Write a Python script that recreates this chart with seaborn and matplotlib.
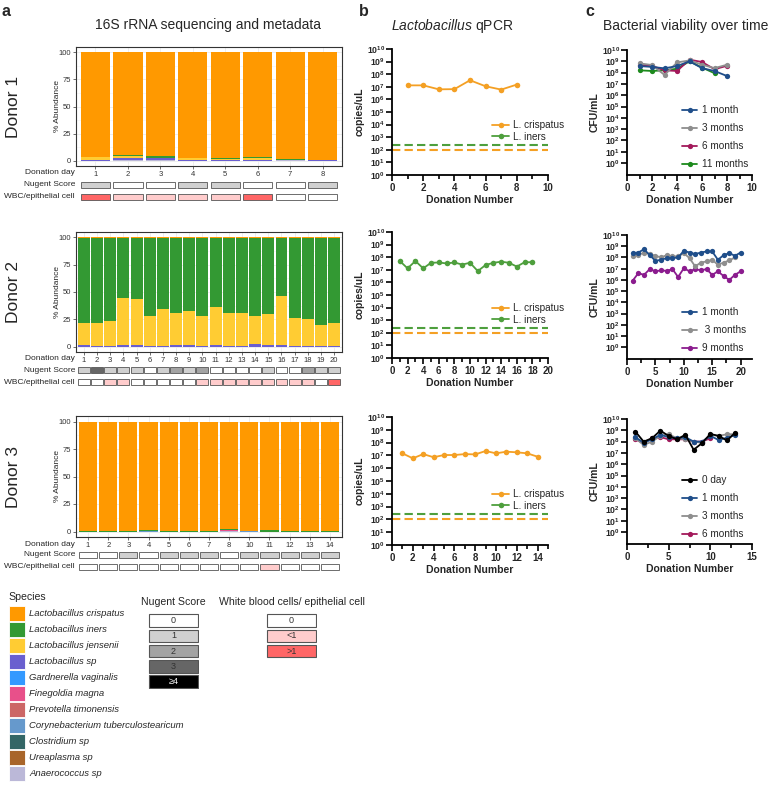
import matplotlib
matplotlib.use('agg')
import matplotlib.pyplot as plt
from matplotlib.lines import Line2D
from matplotlib.patches import Patch
from matplotlib.ticker import NullLocator, MultipleLocator
import numpy as np
import pandas as pd
import seaborn as sns

sns.set_style('ticks')
plt.rcParams['font.family'] = ['Liberation Sans', 'DejaVu Sans']
plt.rcParams['mathtext.fontset'] = 'custom'
plt.rcParams['mathtext.rm'] = 'Liberation Sans'
plt.rcParams['mathtext.it'] = 'Liberation Sans:italic'
plt.rcParams['mathtext.bf'] = 'Liberation Sans:bold'

W, H = 769, 785

# ---------------- data ----------------
species = ['Lactobacillus crispatus', 'Lactobacillus iners', 'Lactobacillus jensenii',
           'Lactobacillus sp', 'Gardnerella vaginalis', 'Finegoldia magna',
           'Prevotella timonensis', 'Corynebacterium tuberculostearicum',
           'Clostridium sp', 'Ureaplasma sp', 'Anaerococcus sp']
species_colors = ['#FF9900', '#339933', '#FFCC33', '#6A5FCF', '#3399FF', '#E8508A',
                  '#CC6666', '#6699CC', '#336666', '#A8652A', '#BBB8D8']

# donor 1 (% abundance)
d1_days = ['1', '2', '3', '4', '5', '6', '7', '8']
d1_crispatus = [96.6, 95.2, 96.0, 97.8, 98.0, 96.5, 98.3, 99.0]
d1_iners = [0.4, 0.2, 1.2, 0.2, 0.2, 1.5, 0.9, 0.3]
d1_jensenii = [2.2, 2.5, 0.8, 1.5, 1.0, 1.2, 0.3, 0.4]
d1_lsp = [0.8, 1.5, 1.2, 0.5, 0.8, 0.8, 0.3, 0.3]
d1_anaero = [0.0, 0.6, 0.8, 0.0, 0.0, 0.0, 0.2, 0.0]
d1_nugent = [1, 0, 0, 1, 1, 0, 0, 1]
d1_wbc = [2, 1, 1, 1, 1, 2, 0, 0]

# donor 2
d2_days = [str(i) for i in range(1, 21)]
d2_crispatus = [0.5, 0.5, 0.5, 0.5, 0.5, 0.5, 0.5, 0.5, 0.5, 0.5,
                0.5, 0.5, 0.5, 0.5, 0.5, 0.5, 0.5, 0.5, 0.5, 0.5]
d2_iners = [78.3, 78.3, 76.2, 54.7, 56.0, 71.1, 65.3, 68.9, 67.1, 71.1,
            63.2, 68.6, 68.6, 71.6, 69.5, 53.5, 73.5, 74.5, 79.5, 78.0]
d2_jensenii = [20.2, 20.4, 22.5, 43.8, 42.3, 27.6, 33.4, 29.6, 31.4, 27.5,
               34.8, 30.3, 30.3, 25.6, 28.8, 44.8, 25.2, 24.2, 19.4, 20.9]
d2_lsp = [1.0, 0.8, 0.8, 1.0, 1.2, 0.8, 0.8, 1.0, 1.0, 0.9,
          1.5, 0.6, 0.6, 2.3, 1.2, 1.2, 0.8, 0.8, 0.6, 0.6]
d2_nugent = [1, 3, 1, 1, 1, 0, 1, 2, 1, 2, 0, 0, 0, 0, 1, 0, 0, 2, 1, 1]
d2_wbc = [0, 0, 1, 1, 0, 0, 0, 0, 0, 1, 1, 1, 1, 1, 1, 1, 1, 1, 0, 2]

# donor 3
d3_days = ['1', '2', '3', '4', '5', '6', '7', '8', '10', '11', '12', '13', '14']
d3_crispatus = [99.7, 99.8, 99.8, 98.6, 99.7, 99.7, 99.4, 97.9, 99.1, 99.0, 99.6, 99.7, 99.5]
d3_iners = [0.3, 0.2, 0.2, 0.8, 0.3, 0.3, 0.6, 0.5, 0.6, 1.0, 0.4, 0.3, 0.5]
d3_coryne = [0, 0, 0, 0.6, 0, 0, 0, 0, 0.3, 0, 0, 0, 0]
d3_finegoldia = [0, 0, 0, 0, 0, 0, 0, 1.0, 0, 0, 0, 0, 0]
d3_anaero = [0, 0, 0, 0, 0, 0, 0, 0.6, 0, 0, 0, 0, 0]
d3_nugent = [0, 0, 1, 0, 1, 1, 1, 0, 1, 1, 1, 1, 1]
d3_wbc = [0, 0, 0, 0, 0, 0, 0, 0, 0, 1, 0, 0, 0]

nugent_labels = ['0', '1', '2', '3', '\u22654']
nugent_colors = ['#FFFFFF', '#D0D0D0', '#A3A3A3', '#666666', '#000000']
wbc_labels = ['0', '<1', '>1']
wbc_colors = ['#FFFFFF', '#FFCCCC', '#FF6666']

# qPCR (copies/uL)
lod_crispatus = 100
lod_iners = 250
q1_x = [1, 2, 3, 4, 5, 6, 7, 8]
q1_crispatus = [1.3e7, 1.3e7, 6.3e6, 6.5e6, 3.3e7, 1.1e7, 6.0e6, 1.5e7]
q2_x = list(range(1, 19))
q2_iners = [5.0e7, 1.3e7, 5.0e7, 1.3e7, 3.6e7, 3.8e7, 3.2e7, 3.8e7, 2.6e7,
            3.6e7, 7.9e6, 2.4e7, 3.6e7, 4.4e7, 3.6e7, 1.8e7, 4.0e7, 4.0e7]
q3_x = list(range(1, 15))
q3_crispatus = [1.45e7, 5.9e6, 1.26e7, 7.2e6, 1.07e7, 1.07e7, 1.26e7,
                1.2e7, 2.2e7, 1.45e7, 1.95e7, 1.74e7, 1.45e7, 7.9e6]

# viability (CFU/mL)
v1_x = [1, 2, 3, 4, 5, 6, 7, 8]
v1_1m = [3.8e8, 3.2e8, 2.4e8, 3.8e8, 1.0e9, 2.5e8, 1.4e8, 5.0e7]
v1_3m = [6.6e8, 4.7e8, 6.2e7, 7.9e8, 1.2e9, 5.0e8, 2.5e8, 5.0e8]
v1_6m = [4.7e8, 4.0e8, 1.6e8, 1.4e8, 1.4e9, 8.7e8, 2.0e8, 4.0e8]
v1_11m = [1.6e8, 1.4e8, 1.6e8, 2.2e8, 1.0e9, 2.8e8, 8.9e7]
v2_x = list(range(1, 21))
v2_1m = [2.4e8, 2.75e8, 5.4e8, 1.6e8, 5.0e7, 6.2e7, 8.7e7, 8.7e7, 1.0e8, 3.9e8,
         2.75e8, 2.0e8, 2.75e8, 3.4e8, 3.4e8, 6.2e7, 1.6e8, 2.4e8, 1.4e8, 2.75e8]
v2_3m = [1.4e8, 1.6e8, 2.75e8, 2.0e8, 1.4e8, 1.0e8, 1.6e8, 1.26e8, 1.26e8, 2.4e8,
         8.7e7, 1.6e7, 3.5e7, 4.4e7, 6.2e7, 2.2e7, 3.5e7, 5.4e7, 1.0e8]
v2_9m = [8.5e5, 4.0e6, 2.8e6, 9.1e6, 5.8e6, 7.1e6, 6.3e6, 9.1e6, 1.8e6, 1.1e7,
         5.8e6, 9.1e6, 7.1e6, 9.1e6, 2.8e6, 5.8e6, 2.2e6, 1.0e6, 2.8e6, 5.8e6]
v3_x = list(range(1, 14))
v3_0d = [7.8e8, 1.0e8, 2.0e8, 9.3e8, 3.2e8, 1.6e8, 4.0e8, 1.9e7, 7.4e7, 4.8e8, 3.2e8, 1.26e8, 6.3e8]
v3_1m = [2.5e8, 7.9e7, 1.6e8, 4.0e8, 2.5e8, 2.0e8, 2.5e8, 1.0e8, 1.0e8, 3.2e8, 1.4e8, 2.2e8, 4.0e8]
v3_3m = [2.0e8, 5.0e7, 1.0e8, 3.2e8, 4.5e8, 2.0e8, 1.6e8, 1.0e8, 7.9e7, 4.0e8, 3.2e8, 4.5e8, 4.5e8]
v3_6m = [1.6e8, 7.4e7, 2.0e8, 2.5e8, 1.6e8, 1.6e8, 1.6e8, 1.0e8, 1.0e8, 2.0e8]

ORANGE = '#F4A024'
GREEN = '#4E9F3D'
BLUE = '#1F4E8A'
GREY = '#8E8E8E'
MAROON = '#A3195B'
DGREEN = '#1D8A1D'
PURPLE = '#8B1C8E'

# ---------------- figure ----------------
fig = plt.figure(figsize=(W / 100, H / 100), dpi=100)


def add_ax(x0, y0, x1, y1):
    return fig.add_axes([x0 / W, 1 - y1 / H, (x1 - x0) / W, (y1 - y0) / H])


sp_color = dict(zip(species, species_colors))
stack_order = species[::-1]  # bottom -> top


def bar_panel(y0, y1, days, comp, nugent, wbc, ny, wy, donor):
    ax = add_ax(76, y0, 342, y1)
    n = len(days)
    cum = np.zeros(n)
    cums = []
    for sp in stack_order:
        if sp in comp:
            cum = cum + np.array(comp[sp], dtype=float)
            cums.append((sp, cum.copy()))
    # draw cumulative totals from the top species down
    for sp, c in reversed(cums):
        df = pd.DataFrame({'day': days, 'cum': c})
        sns.barplot(data=df, x='day', y='cum', order=days, color=sp_color[sp],
                    saturation=1, width=0.9, linewidth=0, errorbar=None, ax=ax, zorder=2)
    ax.set_xlim(-0.6, n - 0.4)
    ax.set_ylim(-5, 105)
    ax.set_yticks([0, 25, 50, 75, 100])
    ax.set_yticks([12.5, 37.5, 62.5, 87.5], minor=True)
    ax.set_xlabel('')
    ax.set_ylabel('% Abundance', fontsize=6)
    ax.yaxis.set_label_coords(-0.056, 0.5)
    ax.set_axisbelow(True)
    ax.grid(True, which='major', color='#EBEBEB', lw=0.6)
    ax.grid(True, which='minor', axis='y', color='#F2F2F2', lw=0.4)
    ax.tick_params(axis='both', which='major', labelsize=5.5, length=2, width=0.5,
                   color='#333333', labelcolor='#333333', pad=1.5)
    ax.tick_params(axis='y', which='minor', length=0)
    for s in ax.spines.values():
        s.set_color('#333333')
        s.set_linewidth(0.8)
    fig.text(14 / W, 1 - (y0 + y1) / 2 / H, donor, rotation=90, ha='center', va='center', fontsize=12.5)
    fig.text(75 / W, 1 - (y1 + 7) / H, 'Donation day', ha='right', va='center', fontsize=6)
    fig.text(75 / W, 1 - ny / H, 'Nugent Score', ha='right', va='center', fontsize=6)
    fig.text(75 / W, 1 - wy / H, 'WBC/epithelial cell', ha='right', va='center', fontsize=6)
    for vals, yc, labs, cols in ((nugent, ny, nugent_labels, nugent_colors),
                                 (wbc, wy, wbc_labels, wbc_colors)):
        mx = add_ax(76, yc - 3.7, 342, yc + 3.7)
        df = pd.DataFrame({'day': days, 'box': [1] * n, 'cat': [labs[v] for v in vals]})
        sns.barplot(data=df, x='day', y='box', hue='cat', order=days, palette=dict(zip(labs, cols)),
                    dodge=False, width=0.9, saturation=1, edgecolor='#555555', linewidth=0.6,
                    legend=False, errorbar=None, ax=mx)
        mx.set_xlim(-0.6, n - 0.4)
        mx.set_ylim(-0.12, 1.12)
        mx.axis('off')
    return ax


bar_panel(47, 166, d1_days,
          {'Lactobacillus crispatus': d1_crispatus, 'Lactobacillus iners': d1_iners,
           'Lactobacillus jensenii': d1_jensenii, 'Lactobacillus sp': d1_lsp,
           'Anaerococcus sp': d1_anaero},
          d1_nugent, d1_wbc, 185, 197, 'Donor 1')
bar_panel(232, 352, d2_days,
          {'Lactobacillus crispatus': d2_crispatus, 'Lactobacillus iners': d2_iners,
           'Lactobacillus jensenii': d2_jensenii, 'Lactobacillus sp': d2_lsp},
          d2_nugent, d2_wbc, 370, 382, 'Donor 2')
bar_panel(416, 537, d3_days,
          {'Lactobacillus crispatus': d3_crispatus, 'Lactobacillus iners': d3_iners,
           'Corynebacterium tuberculostearicum': d3_coryne, 'Finegoldia magna': d3_finegoldia,
           'Anaerococcus sp': d3_anaero},
          d3_nugent, d3_wbc, 555, 567, 'Donor 3')


def style_log(ax, xmax, major, minor, ylow, ylabel):
    ax.set_ylim(ylow, 1e10)
    ax.set_xlim(0, xmax)
    ax.set_yticks([10.0 ** k for k in range(11)],
                  [r'$\mathbf{10^{%d}}$' % k for k in range(11)])
    ax.yaxis.set_minor_locator(NullLocator())
    ax.xaxis.set_major_locator(MultipleLocator(major))
    ax.xaxis.set_minor_locator(MultipleLocator(minor))
    ax.tick_params(axis='y', which='major', labelsize=6.2, length=4, width=1.2, pad=1.2, color='black')
    ax.tick_params(axis='x', which='major', labelsize=7, length=4, width=1.2, pad=1.5, color='black')
    ax.tick_params(axis='x', which='minor', length=3, width=1.2, color='black')
    for lab in ax.get_xticklabels():
        lab.set_fontweight('bold')
    for s in ('top', 'right'):
        ax.spines[s].set_visible(False)
    for s in ('left', 'bottom'):
        ax.spines[s].set_linewidth(1.3)
        ax.spines[s].set_color('black')
    ax.set_xlabel('Donation Number', fontsize=7.5, fontweight='bold', labelpad=2)
    ax.set_ylabel(ylabel, fontsize=7.5, fontweight='bold', labelpad=1.5)


def qpcr_panel(y0, y1, x, y, color, xmax, leg_y):
    ax = add_ax(392, y0, 548, y1)
    ax.set_yscale('log')
    ax.axhline(lod_iners, color=GREEN, ls=(0, (4, 2)), lw=1.5)
    ax.axhline(lod_crispatus, color=ORANGE, ls=(0, (4, 2)), lw=1.5)
    sns.lineplot(x=x, y=y, color=color, marker='o', markersize=4, markeredgewidth=0,
                 linewidth=1.3, ax=ax)
    style_log(ax, xmax, 2, 1, 1, 'copies/uL')
    handles = [Line2D([], [], color=ORANGE, marker='o', markersize=4, markeredgewidth=0, lw=1.3),
               Line2D([], [], color=GREEN, marker='o', markersize=4, markeredgewidth=0, lw=1.3)]
    ax.legend(handles, ['L. crispatus', 'L. iners'], loc='center left',
              bbox_to_anchor=(492 / W, 1 - leg_y / H), bbox_transform=fig.transFigure,
              frameon=False, fontsize=7.2, handlelength=1.7, handletextpad=0.4,
              labelspacing=0.12, borderpad=0, borderaxespad=0)


qpcr_panel(49, 175, q1_x, q1_crispatus, ORANGE, 10, 131)
qpcr_panel(232, 358, q2_x, q2_iners, GREEN, 20, 314)
qpcr_panel(417, 545, q3_x, q3_crispatus, ORANGE, 15, 500)


def viab_panel(y0, y1, x, series, xmax, major, minor, leg_y):
    ax = add_ax(627, y0, 752, y1)
    ax.set_yscale('log')
    for lab, vals, col in reversed(series):
        sns.lineplot(x=x[:len(vals)], y=vals, color=col, marker='o', markersize=3.8,
                     markeredgewidth=0, linewidth=1.3, ax=ax)
    style_log(ax, xmax, major, minor, 10 ** -1.05, 'CFU/mL')
    handles = [Line2D([], [], color=col, marker='o', markersize=3.8, markeredgewidth=0, lw=1.3)
               for _, _, col in series]
    ax.legend(handles, [s[0] for s in series], loc='center left',
              bbox_to_anchor=(682 / W, 1 - leg_y / H), bbox_transform=fig.transFigure,
              frameon=False, fontsize=7.2, handlelength=1.5, handletextpad=0.5,
              labelspacing=0.8, borderpad=0, borderaxespad=0)


viab_panel(50, 175, v1_x, [('1 month', v1_1m, BLUE), ('3 months', v1_3m, GREY),
                           ('6 months', v1_6m, MAROON), ('11 months', v1_11m, DGREEN)],
           10, 2, 1, 137)
viab_panel(235, 359, v2_x, [('1 month', v2_1m, BLUE), (' 3 months', v2_3m, GREY),
                            ('9 months', v2_9m, PURPLE)],
           22, 5, 2.5, 330)
viab_panel(419, 544, v3_x, [('0 day', v3_0d, 'black'), ('1 month', v3_1m, BLUE),
                            ('3 months', v3_3m, GREY), ('6 months', v3_6m, MAROON)],
           15, 5, 2.5, 507)

# ---------------- titles ----------------
for lab, x in (('a', 2), ('b', 359), ('c', 585)):
    fig.text(x / W, 1 - 4 / H, lab, fontsize=11.5, fontweight='bold', va='top', ha='left')
fig.text(208 / W, 1 - 25 / H, '16S rRNA sequencing and metadata', ha='center', va='center', fontsize=10)
fig.text(452 / W, 1 - 26 / H, r'$\it{Lactobacillus}$ qPCR', ha='center', va='center', fontsize=10)
fig.text(686 / W, 1 - 26 / H, 'Bacterial viability over time', ha='center', va='center', fontsize=10)

# ---------------- bottom legends ----------------
fig.text(8 / W, 1 - 597 / H, 'Species', ha='left', va='center', fontsize=7.6)
sp_handles = [Patch(facecolor=c, edgecolor='white', linewidth=0.6) for c in species_colors]
fig.legend(sp_handles, species, loc='upper left', bbox_to_anchor=(9 / W, 1 - 606 / H),
           frameon=False, prop={'style': 'italic', 'size': 6.8}, handlelength=1.7,
           handleheight=2.07, handletextpad=0.45, labelspacing=0.1, borderpad=0, borderaxespad=0)


def box_legend(x0, x1, labels, colors, title, xc):
    n = len(labels)
    ax = add_ax(x0, 612.9, x1, 612.9 + 15.3 * n)
    df = pd.DataFrame({'label': labels, 'box': [1] * n})
    sns.barplot(data=df, y='label', x='box', hue='label', order=labels,
                palette=dict(zip(labels, colors)), orient='h', width=0.83, saturation=1,
                edgecolor='#555555', linewidth=0.8, legend=False, errorbar=None, ax=ax)
    for i, lab in enumerate(labels):
        ax.text(0.5, i, lab, ha='center', va='center', fontsize=6.5,
                color='white' if colors[i] == '#000000' else '#333333')
    ax.set_xlim(-0.02, 1.02)
    ax.axis('off')
    fig.text(xc / W, 1 - 602 / H, title, ha='center', va='center', fontsize=7.6)


box_legend(148, 199, nugent_labels, nugent_colors, 'Nugent Score', 173)
box_legend(266, 317, wbc_labels, wbc_colors, 'White blood cells/ epithelial cell', 292)

fig.savefig('out.png', dpi=100)
